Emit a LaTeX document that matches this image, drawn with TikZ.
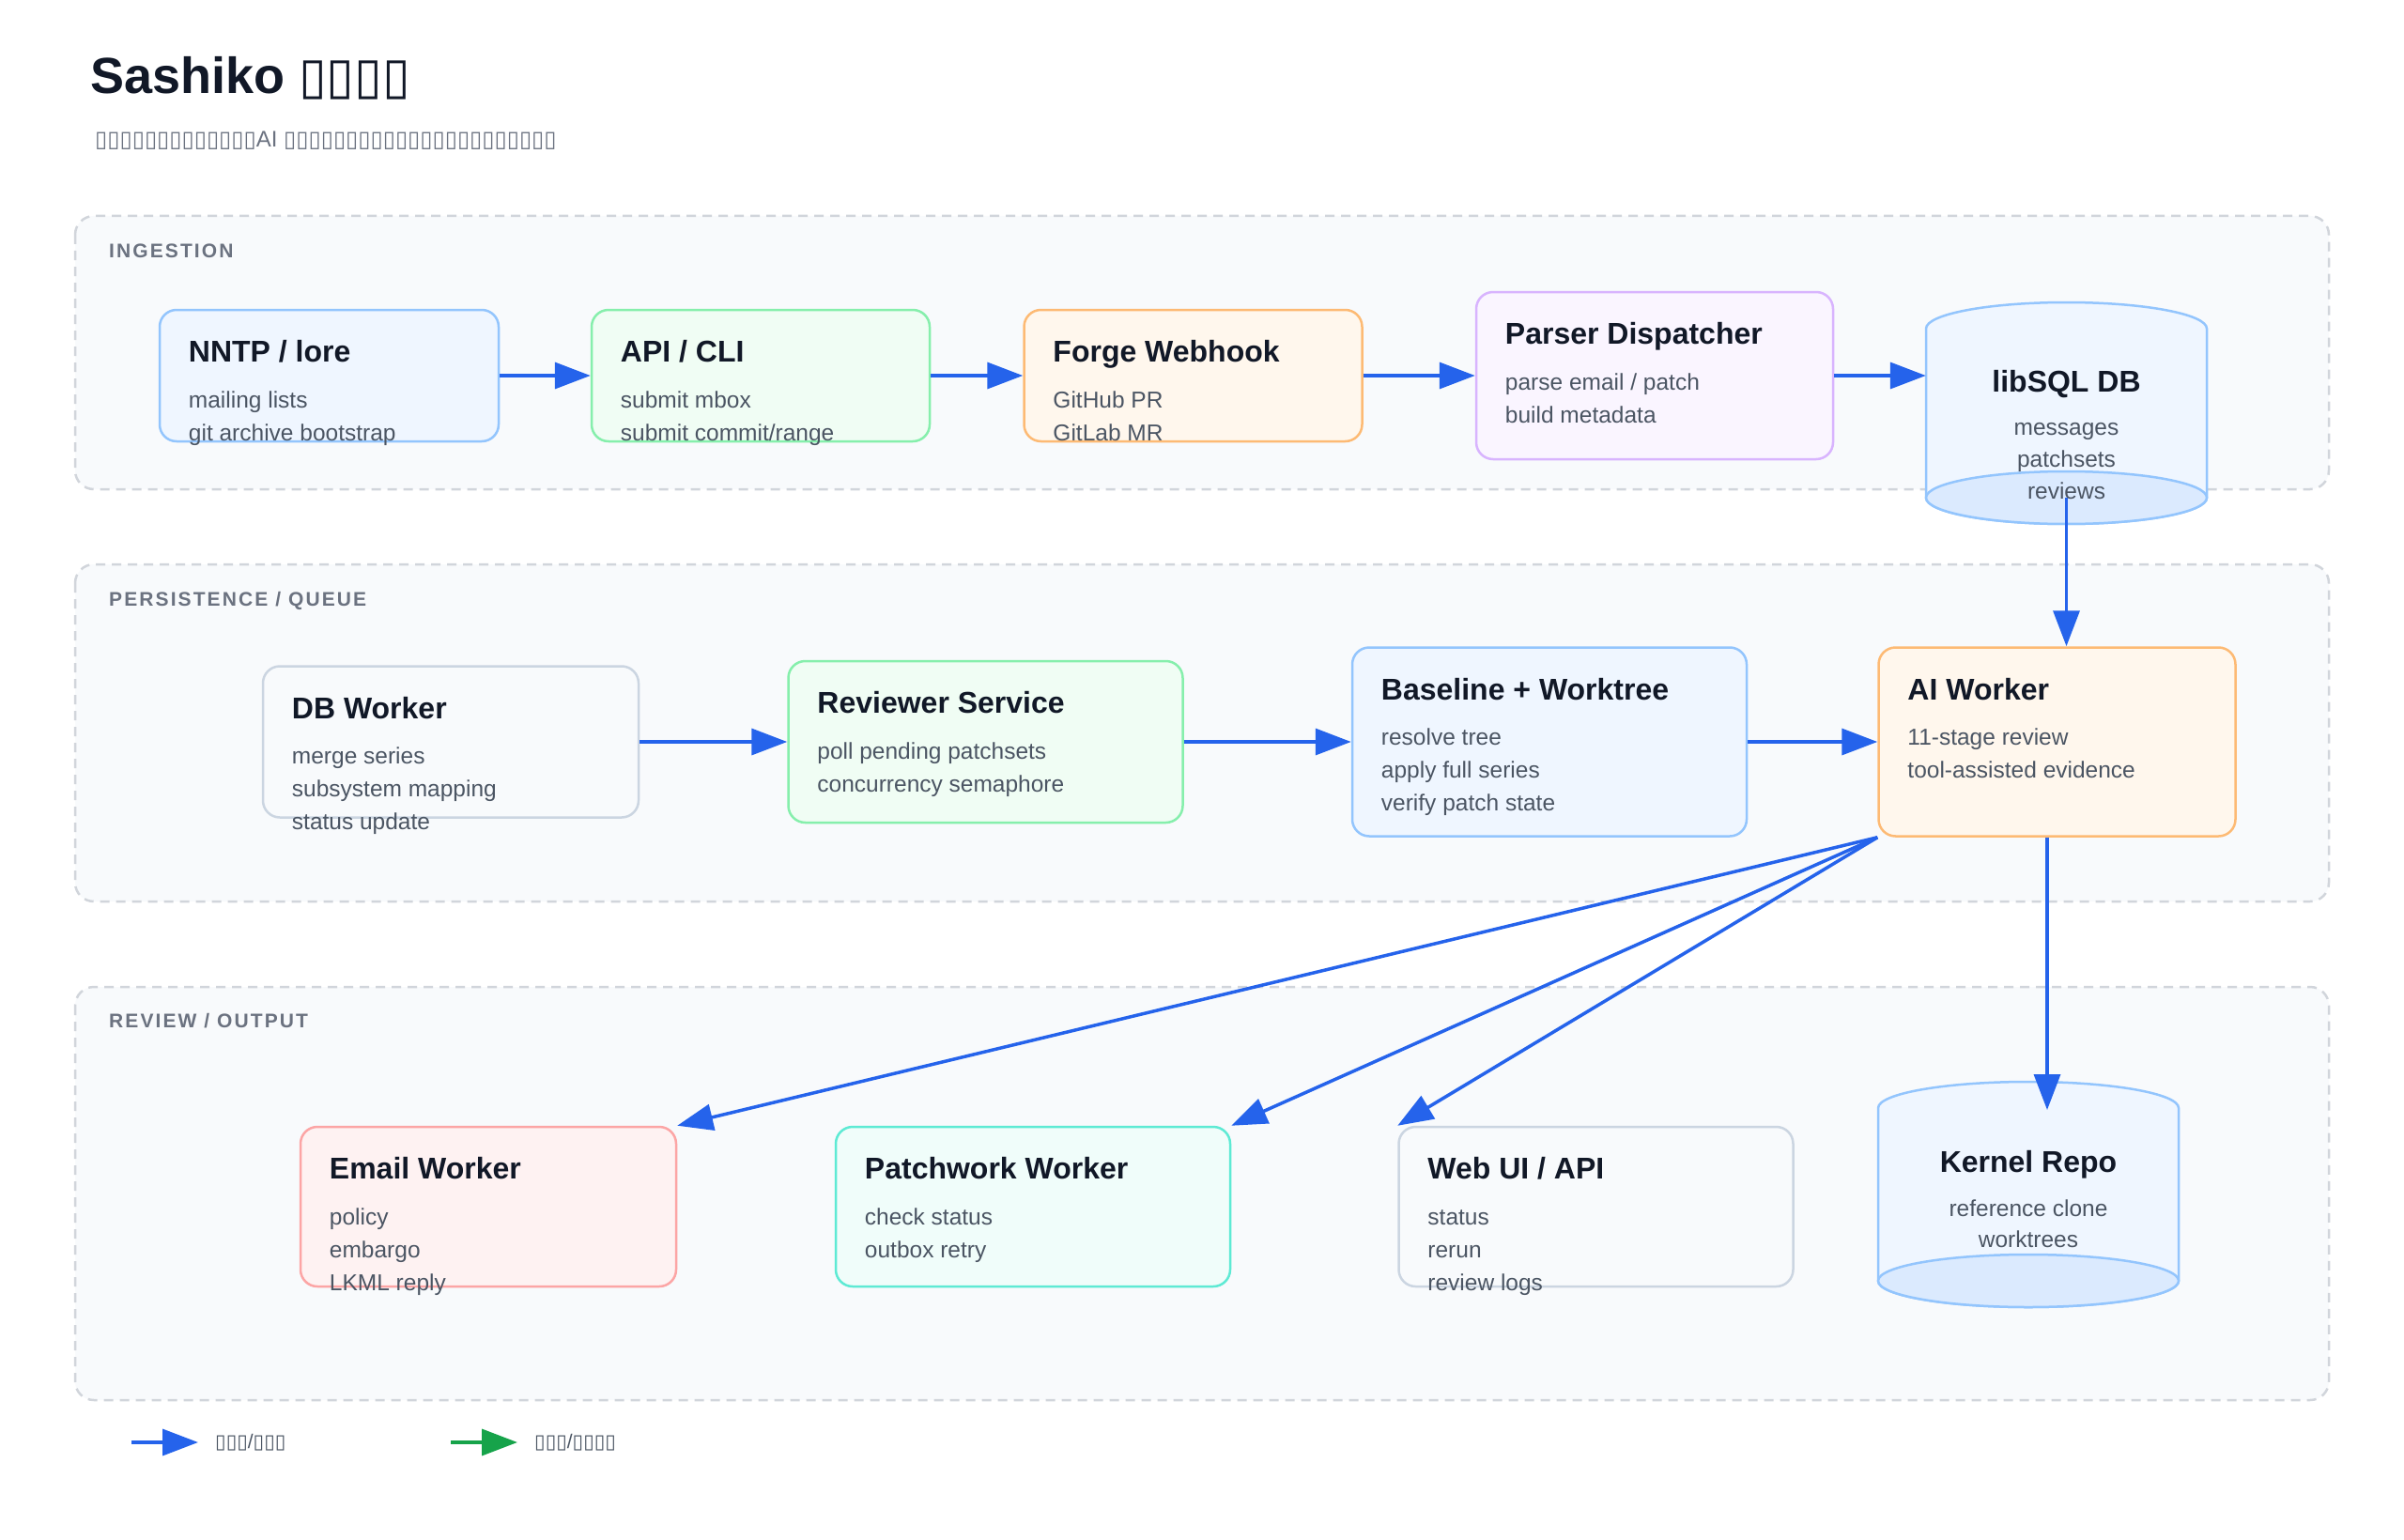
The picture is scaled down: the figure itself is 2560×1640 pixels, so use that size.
\documentclass[tikz,border=0pt]{standalone}
\usepackage{fontspec}
\setmainfont{Liberation Sans}
\newfontfamily\tofufont{DejaVu Sans}
\usetikzlibrary{arrows.meta, positioning, fit}

\definecolor{ink}{HTML}{111827}
\definecolor{muted}{HTML}{4B5563}
\definecolor{labelgray}{HTML}{6B7280}
\definecolor{flow}{HTML}{2563EB}
\definecolor{okgreen}{HTML}{16A34A}
\definecolor{zonefill}{HTML}{F8FAFC}
\definecolor{zoneline}{HTML}{D1D5DB}
\definecolor{bluefill}{HTML}{EFF6FF}\definecolor{blueline}{HTML}{93C5FD}\definecolor{bluedeep}{HTML}{DBEAFE}
\definecolor{greenfill}{HTML}{F0FDF4}\definecolor{greenline}{HTML}{86EFAC}
\definecolor{orangefill}{HTML}{FFF7ED}\definecolor{orangeline}{HTML}{FDBA74}
\definecolor{purplefill}{HTML}{FAF5FF}\definecolor{purpleline}{HTML}{D8B4FE}
\definecolor{slatefill}{HTML}{F8FAFC}\definecolor{slateline}{HTML}{CBD5E1}
\definecolor{redfill}{HTML}{FEF2F2}\definecolor{redline}{HTML}{FCA5A5}
\definecolor{tealfill}{HTML}{F0FDFA}\definecolor{tealline}{HTML}{5EEAD4}

\begin{document}
\begin{tikzpicture}[x=1pt, y=-1pt,
  zone/.style={draw=zoneline, fill=zonefill, line width=2.5pt, dash pattern=on 10pt off 7pt, rounded corners=20pt},
  zonelabel/.style={anchor=base west, inner sep=0pt, text=labelgray, font=\fontsize{21}{25}\selectfont\bfseries\addfontfeature{LetterSpace=10}},
  card/.style={draw, rounded corners=18pt, line width=2.5pt, inner sep=0pt},
  ttl/.style={anchor=base west, inner sep=0pt, text=ink, font=\fontsize{32}{38}\selectfont\bfseries},
  sub/.style={anchor=base west, inner sep=0pt, text=muted, font=\fontsize{24.5}{28}\selectfont},
  cyl/.style={draw=blueline, line width=2.5pt},
  arrow/.style={-{Triangle[length=38pt, width=28pt]}, line width=3.5pt, draw=flow}]

\path[use as bounding box, fill=white] (0,0) rectangle (2560,1640);

% title
\node[anchor=base west, inner sep=0pt, text=ink, font=\fontsize{54}{60}\selectfont\bfseries] (title) at (96,100) {Sashiko {\tofufont ▯▯▯▯}};
\node[anchor=base west, inner sep=0pt, text=labelgray, font=\fontsize{24}{28}\selectfont] (subtitle) at (101,157) {{\tofufont ▯▯▯▯▯▯▯▯▯▯▯▯▯}AI {\tofufont ▯▯▯▯▯▯▯▯▯▯▯▯▯▯▯▯▯▯▯▯▯▯}};

% zones
\draw[zone] (80,230) rectangle (2480,521);
\draw[zone] (80,601) rectangle (2480,960);
\draw[zone] (80,1051) rectangle (2480,1491);
\node[zonelabel] (zingest) at (116,274) {INGESTION};
\node[zonelabel] (zqueue) at (116,645) {PERSISTENCE / QUEUE};
\node[zonelabel] (zoutput) at (116,1094) {REVIEW / OUTPUT};

% ingestion row
\node[card, draw=blueline, fill=bluefill, minimum width=361pt, minimum height=140pt] (nntp) at (350.5,400) {};
\node[card, draw=greenline, fill=greenfill, minimum width=360pt, minimum height=140pt] (api) at (810,400) {};
\node[card, draw=orangeline, fill=orangefill, minimum width=360pt, minimum height=140pt] (forge) at (1270.5,400) {};
\node[card, draw=purpleline, fill=purplefill, minimum width=380pt, minimum height=178pt] (parser) at (1762,400) {};
\node[inner sep=0pt, fit={(2051,322)(2350,558)}] (libsql) {};
\path[cyl, fill=bluefill] (2051,350) arc[start angle=180, end angle=0, x radius=149.5pt, y radius=28pt] -- (2350,530) arc[start angle=0, end angle=-180, x radius=149.5pt, y radius=28pt] -- cycle;
\path[cyl, fill=bluedeep] (2200.5,530) ellipse[x radius=149.5pt, y radius=28pt];

\node[ttl] at ([shift={(32,57)}]nntp.north west) {NNTP / lore};
\foreach \t [count=\i from 0] in {mailing lists, git archive bootstrap}
  \node[sub] at ([shift={(32,105.5+35*\i)}]nntp.north west) {\t};
\node[ttl] at ([shift={(32,57)}]api.north west) {API / CLI};
\foreach \t [count=\i from 0] in {submit mbox, submit commit/range}
  \node[sub] at ([shift={(32,105.5+35*\i)}]api.north west) {\t};
\node[ttl] at ([shift={(32,57)}]forge.north west) {Forge Webhook};
\foreach \t [count=\i from 0] in {GitHub PR, GitLab MR}
  \node[sub] at ([shift={(32,105.5+35*\i)}]forge.north west) {\t};
\node[ttl] at ([shift={(32,57)}]parser.north west) {Parser Dispatcher};
\foreach \t [count=\i from 0] in {parse email / patch, build metadata}
  \node[sub] at ([shift={(32,105.5+35*\i)}]parser.north west) {\t};
\node[ttl, anchor=base] at ([yshift=-96pt]libsql.north) {libSQL DB};
\foreach \t [count=\i from 0] in {messages, patchsets, reviews}
  \node[sub, anchor=base] at ([shift={(0,142+34*\i)}]libsql.north) {\t};

% queue row
\node[card, draw=slateline, fill=slatefill, minimum width=400pt, minimum height=161pt] (dbworker) at (480,790) {};
\node[card, draw=greenline, fill=greenfill, minimum width=420pt, minimum height=172pt] (reviewer) at (1049.5,790) {};
\node[card, draw=blueline, fill=bluefill, minimum width=420pt, minimum height=201pt] (baseline) at (1650,790) {};
\node[card, draw=orangeline, fill=orangefill, minimum width=380pt, minimum height=201pt] (aiworker) at (2190.5,790) {};

\node[ttl] at ([shift={(32,57)}]dbworker.north west) {DB Worker};
\foreach \t [count=\i from 0] in {merge series, subsystem mapping, status update}
  \node[sub] at ([shift={(32,105.5+35*\i)}]dbworker.north west) {\t};
\node[ttl] at ([shift={(32,57)}]reviewer.north west) {Reviewer Service};
\foreach \t [count=\i from 0] in {poll pending patchsets, concurrency semaphore}
  \node[sub] at ([shift={(32,105.5+35*\i)}]reviewer.north west) {\t};
\node[ttl] at ([shift={(32,57)}]baseline.north west) {Baseline + Worktree};
\foreach \t [count=\i from 0] in {resolve tree, apply full series, verify patch state}
  \node[sub] at ([shift={(32,105.5+35*\i)}]baseline.north west) {\t};
\node[ttl] at ([shift={(32,57)}]aiworker.north west) {AI Worker};
\foreach \t [count=\i from 0] in {11-stage review, tool-assisted evidence}
  \node[sub] at ([shift={(32,105.5+35*\i)}]aiworker.north west) {\t};

% output row
\node[card, draw=redline, fill=redfill, minimum width=400pt, minimum height=170pt] (email) at (520,1285) {};
\node[card, draw=tealline, fill=tealfill, minimum width=420pt, minimum height=170pt] (patchwork) at (1100,1285) {};
\node[card, draw=slateline, fill=slatefill, minimum width=420pt, minimum height=170pt] (webui) at (1699.5,1285) {};
\node[inner sep=0pt, fit={(2000,1152)(2320,1392)}] (kernel) {};
\path[cyl, fill=bluefill] (2000,1180) arc[start angle=180, end angle=0, x radius=160pt, y radius=28pt] -- (2320,1364) arc[start angle=0, end angle=-180, x radius=160pt, y radius=28pt] -- cycle;
\path[cyl, fill=bluedeep] (2160,1364) ellipse[x radius=160pt, y radius=28pt];

\node[ttl] at ([shift={(32,57)}]email.north west) {Email Worker};
\foreach \t [count=\i from 0] in {policy, embargo, LKML reply}
  \node[sub] at ([shift={(32,105.5+35*\i)}]email.north west) {\t};
\node[ttl] at ([shift={(32,57)}]patchwork.north west) {Patchwork Worker};
\foreach \t [count=\i from 0] in {check status, outbox retry}
  \node[sub] at ([shift={(32,105.5+35*\i)}]patchwork.north west) {\t};
\node[ttl] at ([shift={(32,57)}]webui.north west) {Web UI / API};
\foreach \t [count=\i from 0] in {status, rerun, review logs}
  \node[sub] at ([shift={(32,105.5+35*\i)}]webui.north west) {\t};
\node[ttl, anchor=base] at ([yshift=-97pt]kernel.north) {Kernel Repo};
\foreach \t [count=\i from 0] in {reference clone, worktrees}
  \node[sub, anchor=base] at ([shift={(0,144+33*\i)}]kernel.north) {\t};

% connectors
\coordinate (libsqlout) at (2200.5,530);
\coordinate (kernelin) at (2180,1182);
\draw[arrow] (nntp.east) -- (api.west);\draw[arrow] (api.east) -- (forge.west);\draw[arrow] (forge.east) -- (parser.west);\draw[arrow] (parser.east) -- (libsql.west |- parser.east);
\draw[arrow] (libsqlout) -- (libsqlout |- aiworker.north);
\draw[arrow] (dbworker.east) -- (reviewer.west);\draw[arrow] (reviewer.east) -- (baseline.west);\draw[arrow] (baseline.east) -- (aiworker.west);
\draw[arrow] (aiworker.south west) -- (email.north east);\draw[arrow] (aiworker.south west) -- (patchwork.north east);\draw[arrow] (aiworker.south west) -- (webui.north west);
\draw[arrow] (kernelin |- aiworker.south) -- (kernelin);

% legend
\coordinate (legA) at (140,1536); \coordinate (legB) at (211,1536);
\coordinate (legC) at (480,1536); \coordinate (legD) at (551,1536);
\node[anchor=west, inner sep=0pt, text=muted, font=\fontsize{21}{24}\selectfont] (legflow) at (229,1536) {{\tofufont ▯▯▯}/{\tofufont ▯▯▯}};
\node[anchor=west, inner sep=0pt, text=muted, font=\fontsize{21}{24}\selectfont] (legok) at (569,1536) {{\tofufont ▯▯▯}/{\tofufont ▯▯▯▯}};
\draw[arrow] (legA) -- (legB);
\draw[arrow, draw=okgreen] (legC) -- (legD);

\end{tikzpicture}
\end{document}
